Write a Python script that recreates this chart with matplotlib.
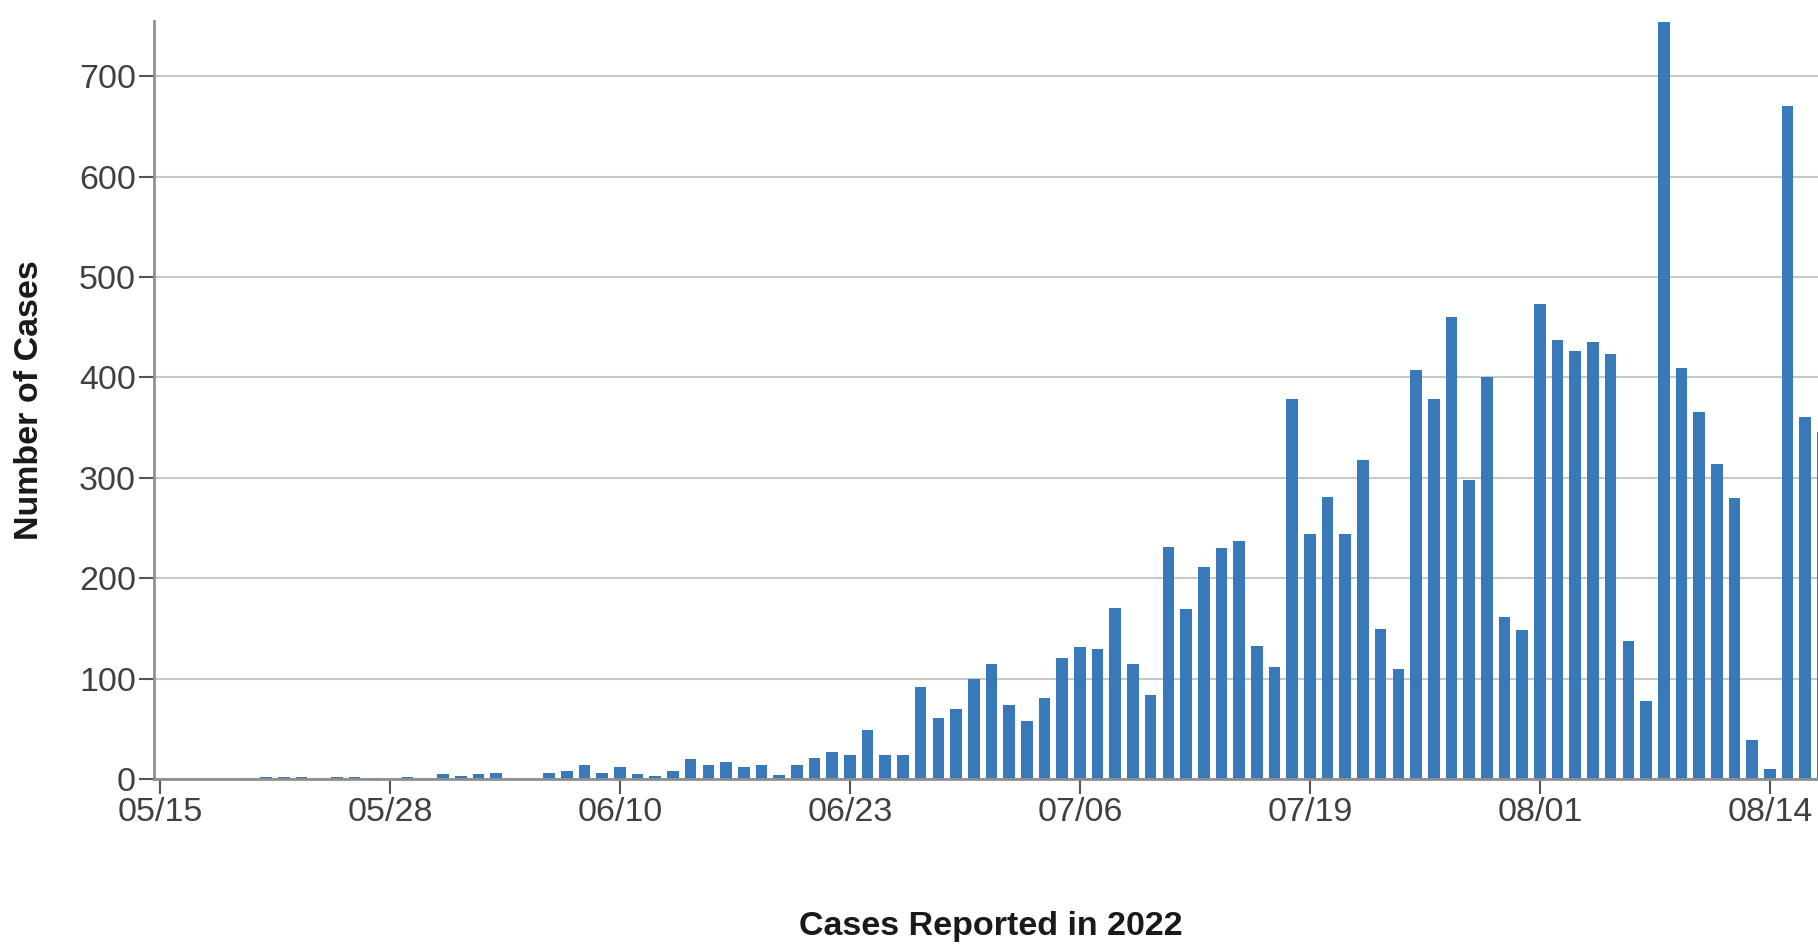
import matplotlib
matplotlib.use("Agg")
import matplotlib.pyplot as plt
import pandas as pd

# daily cases, 05/15 .. 08/17 (2022)
cases = [0, 0, 0, 0, 0, 1, 2, 2, 2, 0,
         2, 2, 1, 0, 2, 1, 5, 3, 5, 6,
         0, 0, 6, 8, 14, 6, 12, 5, 3, 8,
         20, 14, 17, 12, 14, 4, 14, 21, 27, 24,
         49, 24, 24, 92, 61, 70, 100, 115, 74, 58,
         81, 121, 131, 129, 170, 115, 84, 231, 169, 211,
         230, 237, 132, 112, 378, 244, 281, 244, 318, 149,
         110, 407, 378, 460, 298, 400, 161, 148, 473, 437,
         426, 435, 423, 137, 78, 754, 409, 366, 314, 280,
         39, 10, 670, 361, 346]
days = pd.date_range("2022-05-15", periods=len(cases), freq="D")

tick_labels = ["05/15", "05/28", "06/10", "06/23", "07/06", "07/19", "08/01", "08/14"]
tick_dates = pd.to_datetime(["2022/" + t for t in tick_labels], format="%Y/%m/%d")
y_ticks = [0, 100, 200, 300, 400, 500, 600, 700]

plt.rcParams['font.family'] = ['Liberation Sans', 'DejaVu Sans']

fig = plt.figure(figsize=(18.18, 9.48), dpi=100)
ax = fig.add_axes([154 / 1818, 169 / 948, 1 - 154 / 1818, 758 / 948])

ax.bar(days, cases, width=0.66, color="#3879ba", zorder=2)

# chart is cut off on the right, as in the original screenshot
ax.set_xlim(days[0] - pd.Timedelta(hours=8), days[0] + pd.Timedelta(days=93.72))
ax.set_ylim(0, 755)

ax.set_xticks(tick_dates)
ax.set_xticklabels(tick_labels)
ax.set_yticks(y_ticks)
ax.set_yticklabels([str(v) for v in y_ticks])

ax.grid(axis="y", color="#c8c8c8", linewidth=1.5, zorder=0)
ax.set_axisbelow(True)

for s in ["top", "right"]:
    ax.spines[s].set_visible(False)
for s in ["left", "bottom"]:
    ax.spines[s].set_color("#8f8f8f")
    ax.spines[s].set_linewidth(2)

ax.tick_params(axis="both", colors="#555555", labelcolor="#404040",
               labelsize=24.5, length=11, width=1.5)
ax.tick_params(axis="x", pad=2)
ax.tick_params(axis="y", pad=2)

ax.set_ylabel("Number of Cases", fontsize=24.5, fontweight="bold", color="#1a1a1a")
ax.yaxis.set_label_coords(-0.0751, 0.5)
ax.yaxis.label.set_verticalalignment("center")

# x label placed directly in figure coords
fig.text(991 / 1818, 1 - 927 / 948, "Cases Reported in 2022", fontsize=24.5,
         fontweight="bold", color="#1a1a1a", ha="center", va="center")

fig.savefig("out.png", dpi=100)
